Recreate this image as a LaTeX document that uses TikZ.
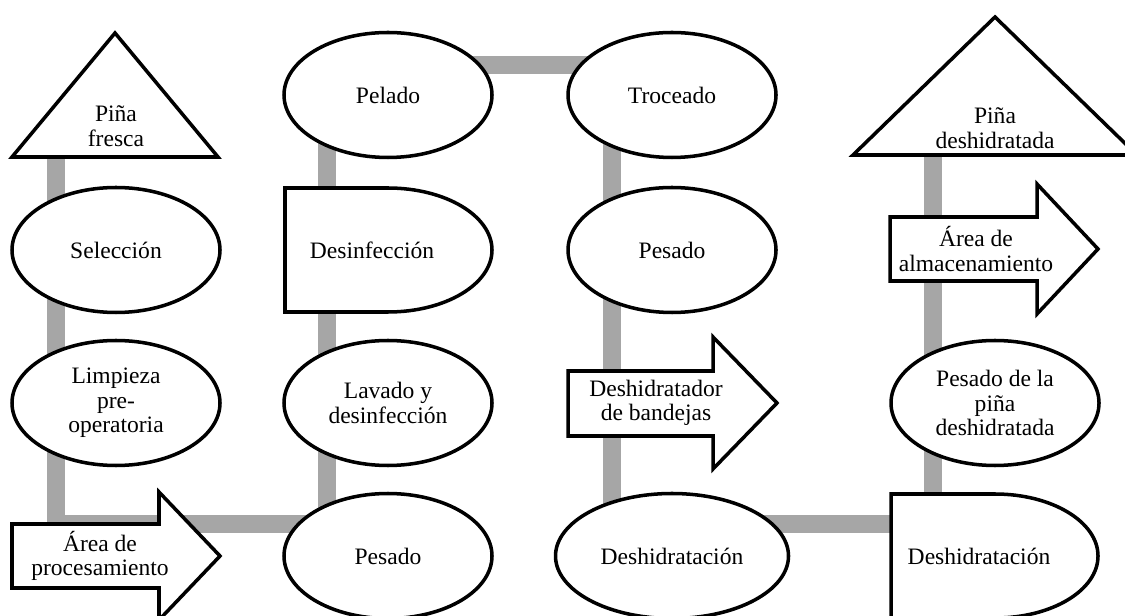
\documentclass[tikz,border=0pt]{standalone}
\usepackage{fontspec}
\setmainfont{Liberation Serif}
\usetikzlibrary{shapes.geometric}

\begin{document}
\begin{tikzpicture}[
  font=\fontsize{13.4}{14}\selectfont,
  line width=2pt,
  etapa/.style={ellipse, draw, fill=white, minimum width=4.16cm, minimum height=2.5cm, inner sep=0pt, align=center},
  figura/.style={draw, fill=white, line join=miter},
  rotulo/.style={align=center, inner sep=0pt},
  flujo/.style={line width=0.36cm, draw=black!35, line join=miter}
]
  \useasboundingbox (0,0) rectangle (22.5,12.3);
  % Flow line (grey) -- bends
  \coordinate (inicio) at (1.12,9.16);
  \coordinate (c1) at (1.12,1.82);
  \coordinate (c2) at (6.54,1.82);
  \coordinate (c3) at (6.54,11.0);
  \coordinate (c4) at (12.24,11.0);
  \coordinate (c5) at (12.24,1.82);
  \coordinate (c6) at (18.66,1.82);
  \coordinate (fin) at (18.66,9.2);
  \draw[flujo] (inicio) -- (c1) -- (c2) -- (c3) -- (c4) -- (c5) -- (c6) -- (fin);
  % Column 1
  \draw[figura] (0.24,9.16) -- (2.3,11.64) -- (4.36,9.16) -- cycle;
  \node[rotulo] (fresca) at (2.32,9.78) {Piña\\fresca};
  \node[etapa] (seleccion) at (2.32,7.3) {Selección};
  \node[etapa] (limpieza) at (2.32,4.24) {Limpieza\\pre-\\operatoria};
  \draw[figura] (0.24,1.82) -- (3.18,1.82) -- (3.18,2.46) -- (4.4,1.18) -- (3.18,-0.1) -- (3.18,0.54) -- (0.24,0.54) -- cycle;
  \node[rotulo] (procesamiento) at (2.0,1.18) {Área de\\procesamiento};
  % Column 2
  \node[etapa] (pelado) at (7.76,10.4) {Pelado};
  \draw[figura] (5.7,8.54) -- (7.76,8.54) arc[start angle=90, end angle=-90, x radius=2.08, y radius=1.24] -- (5.7,6.06) -- cycle;
  \node[rotulo] (desinfeccion) at (7.44,7.3) {Desinfección};
  \node[etapa] (lavado) at (7.76,4.24) {Lavado y\\desinfección};
  \node[etapa] (pesadoA) at (7.76,1.18) {Pesado};
  % Column 3
  \node[etapa] (troceado) at (13.44,10.4) {Troceado};
  \node[etapa] (pesadoB) at (13.44,7.3) {Pesado};
  \draw[figura] (11.36,4.88) -- (14.26,4.88) -- (14.26,5.56) -- (15.54,4.24) -- (14.26,2.92) -- (14.26,3.58) -- (11.36,3.58) -- cycle;
  \node[rotulo] (bandejas) at (13.12,4.24) {Deshidratador\\de bandejas};
  \node[etapa, minimum width=4.66cm] (deshidratacionA) at (13.44,1.18) {Deshidratación};
  % Column 4
  \draw[figura] (17.06,9.2) -- (19.9,11.96) -- (22.74,9.2) -- cycle;
  \node[rotulo] (deshidratada) at (19.9,9.74) {Piña\\deshidratada};
  \draw[figura] (17.8,7.96) -- (20.74,7.96) -- (20.74,8.62) -- (21.96,7.32) -- (20.74,6.02) -- (20.74,6.68) -- (17.8,6.68) -- cycle;
  \node[rotulo] (almacenamiento) at (19.52,7.32) {Área de\\almacenamiento};
  \node[etapa] (pesadoC) at (19.9,4.24) {Pesado de la\\piña\\deshidratada};
  \draw[figura] (17.82,2.42) -- (19.9,2.42) arc[start angle=90, end angle=-90, x radius=2.06, y radius=1.24] -- (17.82,-0.06) -- cycle;
  \node[rotulo] (deshidratacionB) at (19.58,1.18) {Deshidratación};
\end{tikzpicture}
\end{document}
